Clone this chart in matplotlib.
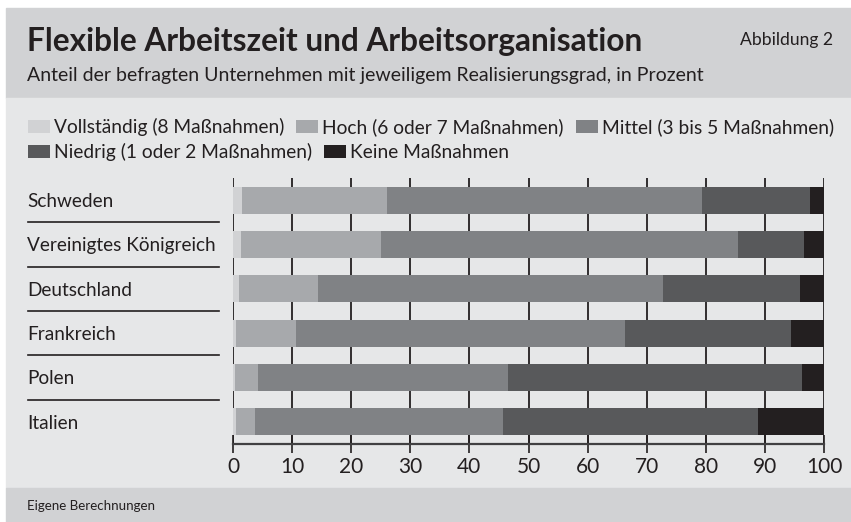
import numpy as np
import matplotlib
matplotlib.use("Agg")
import matplotlib.pyplot as plt
from matplotlib.patches import Rectangle, Patch
import matplotlib.transforms as mtransforms

plt.rcParams['font.family'] = ['Lato', 'DejaVu Sans']

# data (percent of firms per realisation level)
countries = ['Schweden', 'Vereinigtes Königreich', 'Deutschland', 'Frankreich', 'Polen', 'Italien']
vollstaendig = [1.5, 1.3, 1.0, 0.5, 0.3, 0.5]
hoch = [24.5, 23.7, 13.4, 10.1, 3.9, 3.2]
mittel = [53.4, 60.5, 58.4, 55.8, 42.3, 42.0]
niedrig = [18.2, 11.2, 23.1, 28.1, 49.7, 43.2]
keine = [2.4, 3.3, 4.1, 5.5, 3.8, 11.1]

series_names = ['Vollständig (8 Maßnahmen)', 'Hoch (6 oder 7 Maßnahmen)', 'Mittel (3 bis 5 Maßnahmen)',
                'Niedrig (1 oder 2 Maßnahmen)', 'Keine Maßnahmen']
colors = ['#d1d2d4', '#a7a9ac', '#808285', '#58595b', '#231f20']
xticks = [0, 10, 20, 30, 40, 50, 60, 70, 80, 90, 100]

W, H = 851, 522
TXT = '#231f20'
fig = plt.figure(figsize=(W / 100, H / 100), dpi=100)
fig.patch.set_facecolor('white')
renderer = fig.canvas.get_renderer()


def fit(t, target_px):
    # scale font size so the text is about as wide as in the reference
    for _ in range(2):
        w = t.get_window_extent(renderer).width
        t.set_fontsize(t.get_fontsize() * target_px / w)
    return t.get_fontsize()


def px_rect(x0, y0, x1, y1, color):
    fig.patches.append(Rectangle((x0 / W, 1 - y1 / H), (x1 - x0) / W, (y1 - y0) / H,
                                 transform=fig.transFigure, color=color, zorder=-10))


# background bands
px_rect(6, 8, W, 98, '#d1d2d4')
px_rect(6, 98, W, 488, '#e6e7e8')
px_rect(6, 488, W, H, '#d1d2d4')

t = fig.text(27 / W, 1 - 41 / H, 'Flexible Arbeitszeit und Arbeitsorganisation', fontsize=22,
             fontweight='bold', color=TXT, va='center', ha='left')
fit(t, 616)
t = fig.text(833 / W, 1 - 40 / H, 'Abbildung 2', fontsize=12, color=TXT, va='center', ha='right')
fit(t, 93)
t = fig.text(27 / W, 1 - 75 / H, 'Anteil der befragten Unternehmen mit jeweiligem Realisierungsgrad, in Prozent',
             fontsize=13, color=TXT, va='center', ha='left')
fit(t, 676)
t = fig.text(27 / W, 1 - 506 / H, 'Eigene Berechnungen', fontsize=10, color=TXT, va='center', ha='left')
fit(t, 128)

ax = fig.add_axes([233 / W, 1 - 444 / H, 591 / W, 266 / H])
ax.set_facecolor('none')

data = [vollstaendig, hoch, mittel, niedrig, keine]
y = np.arange(len(countries))
left = np.zeros(len(countries))
for vals, c in zip(data, colors):
    ax.barh(y, vals, left=left, height=0.61, color=c, zorder=3)
    left += np.array(vals)

ax.set_xlim(0, 100)
ax.set_ylim(len(countries) - 0.5, -0.5)
ax.set_xticks(xticks)
ax.set_xticklabels([str(t) for t in xticks])
ax.grid(axis='x', color=TXT, linewidth=1.3, zorder=1)
ax.set_axisbelow(True)
for s in ['top', 'right', 'left']:
    ax.spines[s].set_visible(False)
ax.spines['bottom'].set_color('#414042')
ax.spines['bottom'].set_linewidth(1.6)
ax.tick_params(axis='x', direction='inout', length=13, width=1.2, color=TXT,
               labelsize=15, labelcolor=TXT, pad=3)

probe = fig.text(0, 0, 'Vereinigtes Königreich', fontsize=14)
country_fs = fit(probe, 189)
probe.remove()
ax.set_yticks(y)
ax.set_yticklabels(countries)
ax.tick_params(axis='y', length=0, pad=148, labelsize=country_fs, labelcolor=TXT)
for lab in ax.get_yticklabels():
    lab.set_horizontalalignment('left')

# separators between country labels
trans = mtransforms.blended_transform_factory(fig.transFigure, ax.transData)
for i in range(len(countries) - 1):
    ax.plot([28 / W, 219 / W], [i + 0.5, i + 0.5], color=TXT, linewidth=1.2,
            transform=trans, clip_on=False)

probe = fig.text(0, 0, series_names[0], fontsize=14)
leg_fs = fit(probe, 231)
probe.remove()
fs_px = leg_fs * 100 / 72

handles = [Patch(facecolor=c, edgecolor='none') for c in colors]
common = dict(loc='center left', frameon=False, fontsize=leg_fs,
              handlelength=22 / fs_px, handleheight=13 / fs_px,
              handletextpad=4 / fs_px, columnspacing=12 / fs_px, borderaxespad=0, borderpad=0)
leg1 = fig.legend(handles[:3], series_names[:3], bbox_to_anchor=(28 / W, 1 - 127 / H), ncol=3, **common)
leg2 = fig.legend(handles[3:], series_names[3:], bbox_to_anchor=(28 / W, 1 - 152 / H), ncol=2, **common)
for leg in (leg1, leg2):
    for t in leg.get_texts():
        t.set_color(TXT)

fig.savefig('out.png', dpi=100, facecolor=fig.get_facecolor())
